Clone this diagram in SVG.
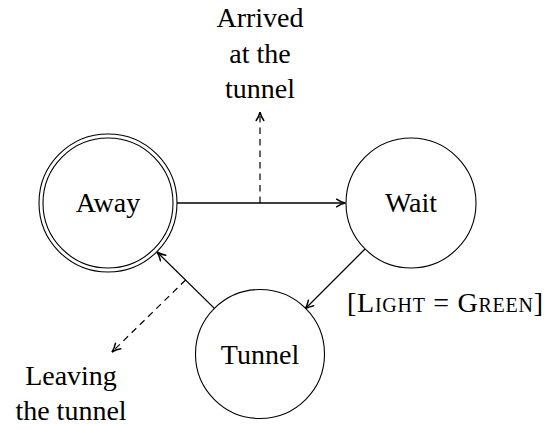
<svg xmlns="http://www.w3.org/2000/svg" width="551" height="430" viewBox="0 0 551 430">
  <defs>
    <marker id="arrow" viewBox="0 0 10 10" refX="9.5" refY="5" markerWidth="10" markerHeight="10" markerUnits="userSpaceOnUse" orient="auto">
      <path d="M1,1.2 Q5.5,4.2 9.5,5 Q5.5,5.8 1,8.8" fill="none" stroke="#000" stroke-width="1.5" stroke-linecap="round" stroke-linejoin="round"/>
    </marker>
    <style>
      .state { fill: #fff; stroke: #000; stroke-width: 1.1; }
      .label { font-family: "Liberation Serif", "DejaVu Serif", serif; font-size: 28px; fill: #000; text-anchor: middle; }
      .edge { fill: none; stroke: #000; stroke-width: 1.3; }
      .event { fill: none; stroke: #000; stroke-width: 1.2; stroke-dasharray: 6.5 5; }
    </style>
  </defs>

  <!-- transitions -->
  <g id="connectors">
    <line class="edge" x1="177" y1="203" x2="345" y2="203" marker-end="url(#arrow)"/>
    <line class="edge" x1="365" y1="249" x2="305" y2="309" marker-end="url(#arrow)"/>
    <line class="edge" x1="214.4" y1="308.4" x2="157" y2="252" marker-end="url(#arrow)"/>
    <!-- event outputs -->
    <line class="event" x1="260" y1="203" x2="260" y2="112" marker-end="url(#arrow)"/>
    <line class="event" x1="185.6" y1="280" x2="112" y2="352" marker-end="url(#arrow)"/>
  </g>

  <g id="away">
    <circle class="state" cx="108" cy="203" r="69"/>
    <circle class="state" cx="108" cy="203" r="65"/>
    <text class="label" x="108" y="212">Away</text>
  </g>

  <g id="wait">
    <circle class="state" cx="411" cy="203" r="65"/>
    <text class="label" x="411" y="212">Wait</text>
  </g>

  <g id="tunnel">
    <circle class="state" cx="260" cy="354" r="64.5"/>
    <text class="label" x="260" y="364">Tunnel</text>
  </g>

  <g id="labels">
    <text class="label" x="260" y="27">Arrived</text>
    <text class="label" x="260" y="63">at the</text>
    <text class="label" x="260" y="98">tunnel</text>
    <text class="label" x="445" y="312" font-variant="small-caps" textLength="196" lengthAdjust="spacing">[Light = Green]</text>
    <text class="label" x="71" y="385">Leaving</text>
    <text class="label" x="71" y="420">the tunnel</text>
  </g>
</svg>
